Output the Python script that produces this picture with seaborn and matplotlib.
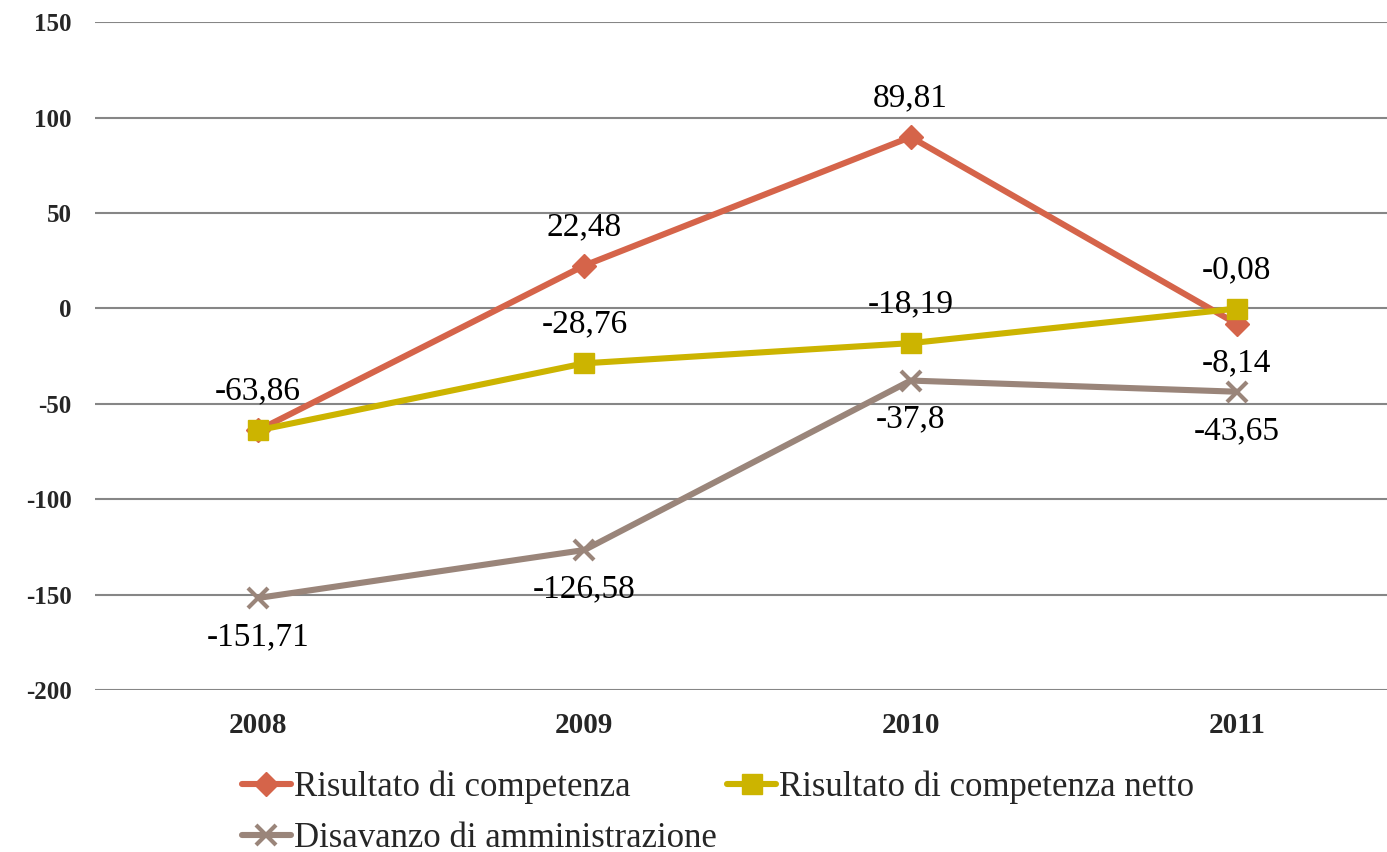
import matplotlib.pyplot as plt
import numpy as np
import pandas as pd
import seaborn as sns

years = ["2008", "2009", "2010", "2011"]
competenza = [-63.86, 22.48, 89.81, -8.14]
competenza_netto = [-63.86, -28.76, -18.19, -0.08]
disavanzo = [-151.71, -126.58, -37.8, -43.65]
series_names = ["Risultato di competenza", "Risultato di competenza netto",
                "Disavanzo di amministrazione"]
y_ticks = [-200, -150, -100, -50, 0, 50, 100, 150]

sns.set_theme(style="white")
plt.rcParams["font.family"] = ["Liberation Serif", "DejaVu Serif"]

colours = ["#D5644A", "#CCB400", "#9A857A"]
markers = ["D", "s", "x"]
msizes = [12, 15, 15]
# label placement per point: +1 above, -1 below, 0 = hidden (overlap)
label_side = [
    [1, 1, 1, -1],
    [0, 1, 1, 1],
    [-1, -1, -1, -1],
]

df = pd.DataFrame({
    "x": np.tile(np.arange(len(years)), 3),
    "value": competenza + competenza_netto + disavanzo,
    "serie": np.repeat(series_names, len(years)),
})

fig = plt.figure(figsize=(13.87, 8.52), dpi=100)
ax = fig.add_axes([0.0685, 0.19, 0.9315, 0.784])

for name, col, mk, ms in zip(series_names, colours, markers, msizes):
    sub = df[df["serie"] == name]
    sns.lineplot(data=sub, x="x", y="value", ax=ax, color=col, lw=4.4,
                 marker=mk, markersize=ms, markeredgecolor=col,
                 markeredgewidth=3 if mk == "x" else 1, label=name, zorder=3)

for i, name in enumerate(series_names):
    sub = df[df["serie"] == name]
    for j, (xv, yv) in enumerate(zip(sub["x"], sub["value"])):
        side = label_side[i][j]
        if side == 0:
            continue
        txt = f"{yv:g}".replace(".", ",")
        ax.annotate(txt, (xv, yv), xytext=(0, 28 * side), textcoords="offset points",
                    ha="center", va="center", fontsize=24, color="black")

ax.set_xlim(-0.5, 3.46)
ax.set_ylim(-200, 150)
ax.set_yticks(y_ticks)
ax.set_yticklabels([str(t) for t in y_ticks], fontsize=18, fontweight="bold")
ax.set_xticks(range(len(years)))
ax.set_xticklabels(years, fontsize=21, fontweight="bold")
ax.tick_params(axis="x", length=0, pad=16)
ax.tick_params(axis="y", length=0, pad=17)
ax.grid(axis="y", color="#868686", lw=1.5)
ax.grid(axis="x", visible=False)
for s in ax.spines.values():
    s.set_visible(False)
ax.set_xlabel("")
ax.set_ylabel("")

# legend filled row by row as in the original
handles, labels = ax.get_legend_handles_labels()
order = [0, 2, 1]
ax.legend([handles[k] for k in order], [labels[k] for k in order],
          loc="upper left", bbox_to_anchor=(0.103, -0.1), ncol=2, frameon=False,
          fontsize=25, handlelength=1.4, handletextpad=0.1, columnspacing=0.3,
          labelspacing=0.5, borderaxespad=0)

fig.savefig("out.png", dpi=100)
